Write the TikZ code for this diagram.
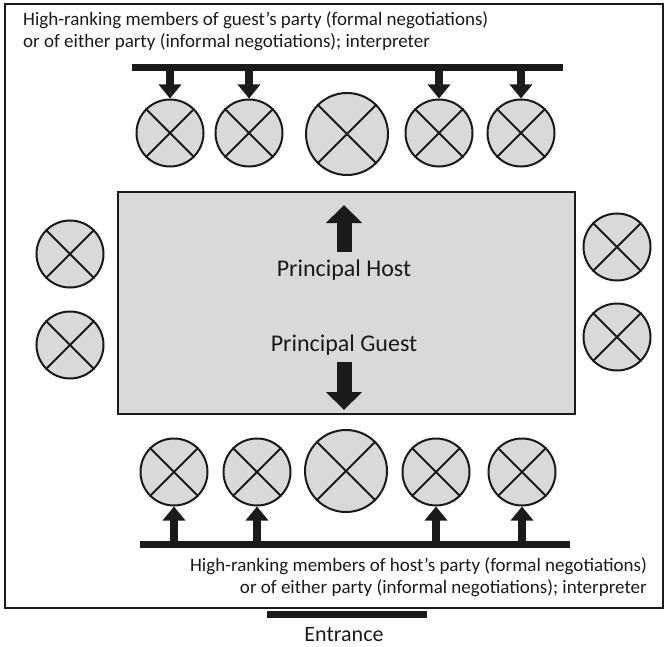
\documentclass[tikz,border=0pt]{standalone}
\usepackage{fontspec}
\setmainfont{Carlito}
\usetikzlibrary{positioning, arrows.meta, calc}
\usepackage{xcolor}
\definecolor{tblgray}{HTML}{D9D9D9}
\definecolor{ink}{HTML}{1A1A1A}

\tikzset{
  seat/.style={circle, draw=ink, line width=2pt, fill=tblgray, minimum size=67pt, inner sep=0pt},
  bigseat/.style={seat, minimum size=82pt},
  bar/.style={fill=ink, inner sep=0pt, minimum height=7pt},
  walk/.style={ink, line width=8pt, -{Triangle[width=22pt,length=14pt]}},
  bigwalk/.style={ink, line width=15pt, -{Triangle[width=35pt,length=18pt]}},
  caption/.style={font=\fontsize{19}{22.5}\selectfont, text=ink, inner sep=0pt},
  principal/.style={font=\fontsize{24}{26}\selectfont, text=ink, inner sep=0pt}
}

\begin{document}
\begin{tikzpicture}[x=1pt, y=-1pt]
    \useasboundingbox (0,0) rectangle (666,647);
    % room
    \draw[ink, line width=2pt] (5,4) rectangle (663,608);
    \node[bar, minimum width=160pt] (door) at (347,614) {};
    \node[principal, font=\fontsize{22}{24}\selectfont] (entr) at (344,635) {Entrance};
    % table
    \node[draw=ink, line width=2pt, fill=tblgray, minimum width=457pt, minimum height=222pt,
          inner sep=0pt] (table) at (346.5,303) {};
    \node[principal] (host) at (344,270) {Principal Host};
    \node[principal] (guest) at (344,345) {Principal Guest};
    \coordinate (hostto) at (344,205);
    \coordinate (guestto) at (344,410);
    \draw[bigwalk] (host.north |- 0,252) -- (hostto);
    \draw[bigwalk] (guest.south |- 0,362) -- (guestto);
    % guest side
    \node[caption, align=left, anchor=west] (gtext) at (23,31)
      {High-ranking members of guest’s party (formal negotiations)\\
       or of either party (informal negotiations); interpreter};
    \node[bar, minimum width=431pt] (gbar) at (347.5,67.5) {};
    \node[seat] (t1) at (170,133) {};
    \node[seat] (t2) at (249,133) {};
    \node[bigseat] (t3) at (347,134) {};
    \node[seat] (t4) at (439,133) {};
    \node[seat] (t5) at (521,133) {};
    % host side
    \node[bar, minimum width=430pt] (hbar) at (355,544) {};
    \node[caption, align=right, anchor=east] (htext) at (647,577)
      {High-ranking members of host’s party (formal negotiations)\\
       or of either party (informal negotiations); interpreter};
    \node[seat] (b1) at (174,472) {};
    \node[seat] (b2) at (257,472) {};
    \node[bigseat] (b3) at (346,471) {};
    \node[seat] (b4) at (436,472) {};
    \node[seat] (b5) at (522,472) {};
    % ends of the table
    \node[seat] (l1) at (70,254) {};
    \node[seat] (l2) at (70,345) {};
    \node[seat] (r1) at (617,247) {};
    \node[seat] (r2) at (617,337) {};
    \foreach \s in {t1,t2,t3,t4,t5,b1,b2,b3,b4,b5,l1,l2,r1,r2}
      \draw[ink, line width=2pt] (\s.45) -- (\s.225) (\s.135) -- (\s.315);
    \foreach \s in {t1,t2,t4,t5}
      \draw[walk] (\s |- gbar.center) -- (\s.north);
    \foreach \s in {b1,b2,b4,b5}
      \draw[walk] (\s |- hbar.center) -- (\s.south);
\end{tikzpicture}
\end{document}
